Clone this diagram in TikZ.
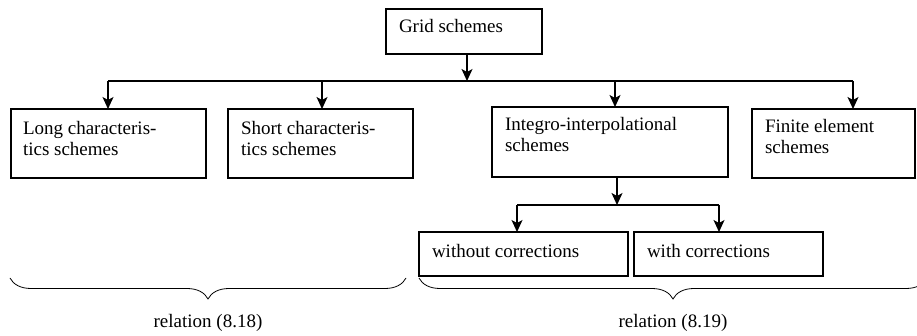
\documentclass[tikz,border=0pt]{standalone}
\usepackage{fontspec}
\setmainfont{Liberation Serif}
\usetikzlibrary{arrows.meta,decorations.pathreplacing}
\begin{document}
\begin{tikzpicture}[x=1pt,y=-1pt,
  box/.style={draw,line width=1.2pt,rectangle,inner sep=0pt,outer sep=0pt},
  txt/.style={inner sep=0pt,outer sep=0pt,align=left,font=\fontsize{19}{21}\selectfont},
  lbl/.style={inner sep=0pt,outer sep=0pt,font=\fontsize{19}{21}\selectfont},
  line/.style={line width=1.2pt},
  arr/.style={line width=1.2pt,-{Stealth[length=12pt,width=11pt,inset=3pt]}},
  brc/.style={line width=0.8pt,decorate,decoration={brace,mirror,amplitude=21pt}}]
\clip (0,0) rectangle (917,336);
\useasboundingbox (0,0) rectangle (917,336);
% boxes
\node[box,minimum width=156pt,minimum height=45pt] (grid) at (464,31.5) {};
\node[box,minimum width=195pt,minimum height=69pt] (long) at (108.5,143.5) {};
\node[box,minimum width=185pt,minimum height=69pt] (short) at (320.5,143.5) {};
\node[box,minimum width=236pt,minimum height=70pt] (integ) at (610,142) {};
\node[box,minimum width=163pt,minimum height=69pt] (fin) at (833.5,143.5) {};
\node[box,minimum width=209pt,minimum height=44pt] (wo) at (523.5,254) {};
\node[box,minimum width=189pt,minimum height=44pt] (wc) at (728.5,254) {};
% texts
\node[txt,anchor=base west] (tgrid) at (399,33) {Grid schemes};
\node[txt,anchor=base west] (tlong) at (23,135) {Long characteris-};
\node[txt,anchor=base west] (tlong2) at (23,156) {tics schemes};
\node[txt,anchor=base west] (tshort) at (241,135) {Short characteris-};
\node[txt,anchor=base west] (tshort2) at (241,156) {tics schemes};
\node[txt,anchor=base west] (tinteg) at (505,131) {Integro-interpolational};
\node[txt,anchor=base west] (tinteg2) at (505,152) {schemes};
\node[txt,anchor=base west] (tfin) at (765,133) {Finite element};
\node[txt,anchor=base west] (tfin2) at (765,154) {schemes};
\node[txt,anchor=base west] (two) at (432,258) {without corrections};
\node[txt,anchor=base west] (twc) at (647,258) {with corrections};
% top connectors
\coordinate (b0) at (467,81);
\coordinate (b1) at (108,81);
\coordinate (b2) at (322,81);
\coordinate (b3) at (615,81);
\coordinate (b4) at (853,81);
\draw[arr] (b0 |- grid.south) -- (b0);
\draw[line] (b1) -- (b4);
\draw[arr] (b1) -- (b1 |- long.north);
\draw[arr] (b2) -- (b2 |- short.north);
\draw[arr] (b3) -- (b3 |- integ.north);
\draw[arr] (b4) -- (b4 |- fin.north);
% lower connectors
\coordinate (c0) at (617,205);
\coordinate (c1) at (517,205);
\coordinate (c2) at (719,205);
\draw[arr] (c0 |- integ.south) -- (c0);
\draw[line] (c1) -- (c2);
\draw[arr] (c1) -- (c1 |- wo.north);
\draw[arr] (c2) -- (c2 |- wc.north);
% braces
\coordinate (l1) at (10,278);
\coordinate (l2) at (406,278);
\coordinate (r1) at (419,278);
\coordinate (r2) at (927,278);
\draw[brc] (l1) -- (l2);
\draw[brc] (r1) -- (r2);
\node[lbl,anchor=base] (rel1) at (208,327) {relation (8.18)};
\node[lbl,anchor=base] (rel2) at (673,327) {relation (8.19)};
\end{tikzpicture}
\end{document}
